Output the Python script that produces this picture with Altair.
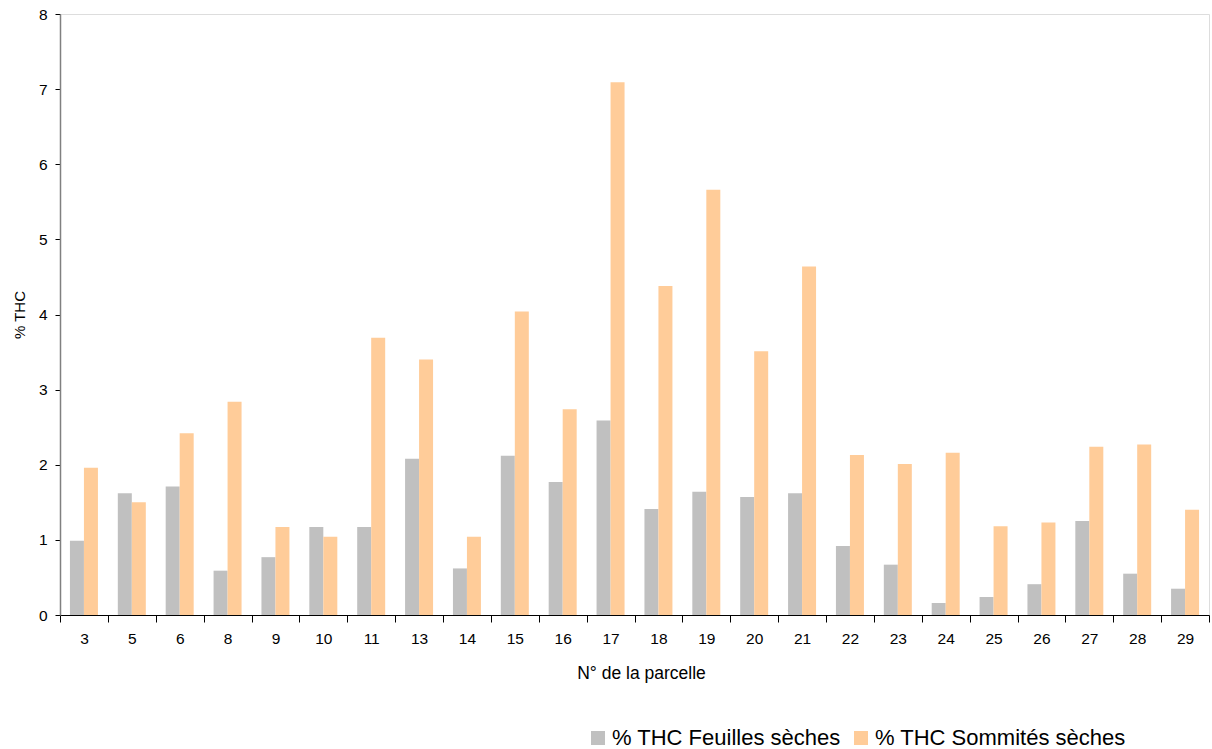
import altair as alt
import pandas as pd

# Plot numbers (N° de la parcelle)
parcelles = ["3", "5", "6", "8", "9", "10", "11", "13", "14", "15", "16", "17",
             "18", "19", "20", "21", "22", "23", "24", "25", "26", "27", "28", "29"]

# % THC in dried leaves
feuilles = [0.99, 1.62, 1.71, 0.59, 0.77, 1.17, 1.17, 2.08, 0.62, 2.12, 1.77, 2.59,
            1.41, 1.64, 1.57, 1.62, 0.92, 0.67, 0.16, 0.24, 0.41, 1.25, 0.55, 0.35]

# % THC in dried flowering tops
sommites = [1.96, 1.50, 2.42, 2.84, 1.17, 1.04, 3.69, 3.40, 1.04, 4.04, 2.74, 7.09,
            4.38, 5.66, 3.51, 4.64, 2.13, 2.01, 2.16, 1.18, 1.23, 2.24, 2.27, 1.40]

series = ["% THC Feuilles sèches", "% THC Sommités sèches"]
colors = ["#C0C0C0", "#FFCC99"]

rows = []
for p, f, s in zip(parcelles, feuilles, sommites):
    rows.append({"parcelle": p, "serie": series[0], "thc": f})
    rows.append({"parcelle": p, "serie": series[1], "thc": s})
df = pd.DataFrame(rows)

FONT = "Liberation Sans"

chart = alt.Chart(df).mark_bar().encode(
    x=alt.X(
        "parcelle:N",
        sort=parcelles,
        scale=alt.Scale(paddingInner=0, paddingOuter=0),
        axis=alt.Axis(
            title="N° de la parcelle",
            titleX=581,
            labelAngle=0,
            tickBand="extent",
            tickSize=7,
            tickColor="#000000",
            domainColor="#000000",
            labelFontSize=15.5,
            labelPadding=9,
            labelColor="#000000",
            titleFontSize=17.5,
            titleFontWeight="normal",
            titleColor="#000000",
            titlePadding=18,
            labelFont=FONT,
            titleFont=FONT,
            grid=False,
        ),
    ),
    # the pair of bars sits in the middle of each category step
    xOffset=alt.XOffset(
        "serie:N",
        sort=series,
        scale=alt.Scale(paddingInner=0, paddingOuter=0.71),
    ),
    y=alt.Y(
        "thc:Q",
        scale=alt.Scale(domain=[0, 8], nice=False),
        axis=alt.Axis(
            title="% THC",
            values=[0, 1, 2, 3, 4, 5, 6, 7, 8],
            format="d",
            tickSize=5,
            tickColor="#000000",
            domainColor="#808080",
            domainWidth=1.5,
            labelFontSize=15.5,
            labelPadding=8,
            labelColor="#000000",
            titleFontSize=15,
            titleFontWeight="normal",
            titleColor="#000000",
            titlePadding=11,
            labelFont=FONT,
            titleFont=FONT,
            grid=False,
        ),
    ),
    color=alt.Color(
        "serie:N",
        sort=series,
        scale=alt.Scale(domain=series, range=colors),
        legend=alt.Legend(
            title=None,
            orient="none",
            legendX=527,
            legendY=713,
            direction="horizontal",
            symbolType="square",
            symbolSize=196,
            symbolStrokeWidth=0,
            symbolOpacity=1,
            labelFontSize=22,
            labelFont=FONT,
            labelColor="#000000",
            labelLimit=400,
            labelOffset=3,
            columnPadding=9,
            symbolOffset=0,
        ),
    ),
).properties(
    width=1149,
    height=601,
    padding={"left": 60, "top": 14, "right": 3, "bottom": 134},
    autosize=alt.AutoSizeParams(type="none"),
).configure_view(
    stroke=None
).configure(
    background="#ffffff"
)

chart.save("out.html", embed_options={"renderer": "svg", "actions": False})
